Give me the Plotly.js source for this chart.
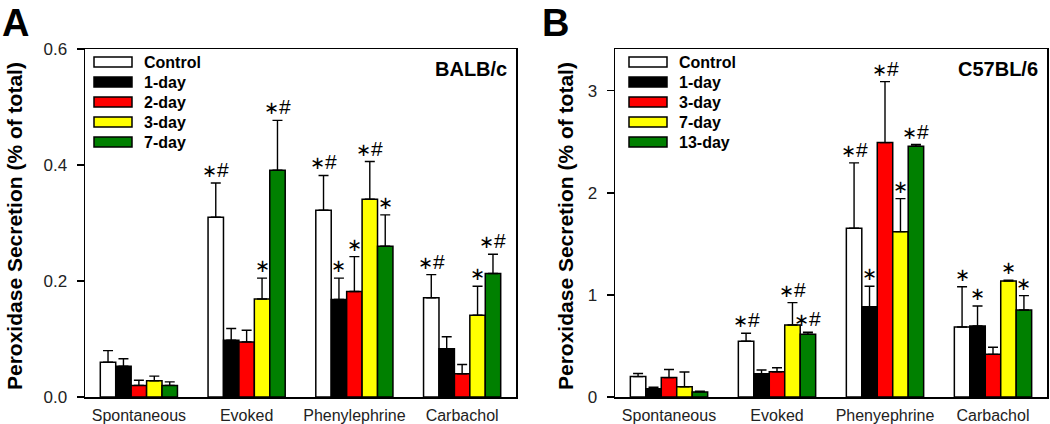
<!DOCTYPE html>
<html>
<head>
<meta charset="utf-8">
<script src="https://cdn.plot.ly/plotly-3.0.1.min.js"></script>
<style>html,body{margin:0;padding:0;background:#fff;}#chart{width:1050px;height:424px;}</style>
</head>
<body>
<div id="chart"></div>
<script>
// ---------- data ----------
const catsA = ['Spontaneous', 'Evoked', 'Phenylephrine', 'Carbachol'];
const catsB = ['Spontaneous', 'Evoked', 'Phenyephrine', 'Carbachol'];
const seriesA = ['Control', '1-day', '2-day', '3-day', '7-day'];
const seriesB = ['Control', '1-day', '3-day', '7-day', '13-day'];
const colors = ['#ffffff', '#000000', '#ff0000', '#ffff00', '#008000'];
const yTitle = 'Peroxidase Secretion (% of total)';

// Panel A (BALB/c): means and SEM (upper error only)
const A_control = [0.060, 0.310, 0.322, 0.171];
const A_day1    = [0.053, 0.098, 0.168, 0.083];
const A_day2    = [0.020, 0.095, 0.182, 0.040];
const A_day3    = [0.028, 0.169, 0.341, 0.141];
const A_day7    = [0.020, 0.391, 0.260, 0.213];
const A_err_control = [0.020, 0.059, 0.060, 0.040];
const A_err_day1    = [0.013, 0.020, 0.037, 0.021];
const A_err_day2    = [0.009, 0.020, 0.060, 0.016];
const A_err_day3    = [0.008, 0.036, 0.065, 0.050];
const A_err_day7    = [0.006, 0.086, 0.054, 0.033];
const A_sig_control = ['', '*#', '*#', '*#'];
const A_sig_day1    = ['', '', '*', ''];
const A_sig_day2    = ['', '', '*', ''];
const A_sig_day3    = ['', '*', '*#', '*'];
const A_sig_day7    = ['', '*#', '*', '*#'];

// Panel B (C57BL/6)
const B_control = [0.20, 0.546, 1.654, 0.686];
const B_day1    = [0.08, 0.228, 0.885, 0.696];
const B_day3    = [0.19, 0.248, 2.493, 0.418];
const B_day7    = [0.10, 0.706, 1.620, 1.137];
const B_day13   = [0.05, 0.615, 2.458, 0.853];
const B_err_control = [0.030, 0.078, 0.640, 0.394];
const B_err_day1    = [0.015, 0.037, 0.200, 0.196];
const B_err_day3    = [0.080, 0.039, 0.597, 0.069];
const B_err_day7    = [0.145, 0.219, 0.324, 0.007];
const B_err_day13   = [0.006, 0.019, 0.016, 0.140];
const B_sig_control = ['', '*#', '*#', '*'];
const B_sig_day1    = ['', '', '*', '*'];
const B_sig_day3    = ['', '', '*#', ''];
const B_sig_day7    = ['', '*#', '*', '*'];
const B_sig_day13   = ['', '*#', '*#', '*'];

const yTicksA = [0, 0.2, 0.4, 0.6];
const yTickTextA = ['0.0', '0.2', '0.4', '0.6'];
const yTicksB = [0, 1, 2, 3];
const yTickTextB = ['0', '1', '2', '3'];

// ---------- build ----------
const FONT = 'Arial, "Liberation Sans", sans-serif';
const BARGAP = 0.284;
const pos = [0, 1, 2, 3];

const traces = [];
const annotations = [];
const shapes = [];

function sigText(s) {
  return s.replace('*', '<span style="font-size:18px">∗</span>');
}

function addPanel(xa, ya, names, means, errs, sigs, legendBoxX, legendTextX, strain) {
  const n = names.length;
  const bw = (1 - BARGAP) / n;
  names.forEach((nm, j) => {
    traces.push({
      type: 'bar', name: nm, x: pos, y: means[j],
      xaxis: xa, yaxis: ya, showlegend: false,
      marker: {color: colors[j], line: {color: '#000', width: 1.5}},
      error_y: {type: 'data', symmetric: false, array: errs[j], arrayminus: errs[j].map(() => 0),
                color: '#000', thickness: 1.4, width: 5},
      hoverinfo: 'skip'
    });
    sigs[j].forEach((s, i) => {
      if (!s) return;
      annotations.push({
        xref: xa, yref: ya, x: i + (j - (n - 1) / 2) * bw, y: means[j][i] + errs[j][i],
        text: sigText(s), showarrow: false, yanchor: 'bottom', xanchor: 'center',
        font: {family: 'Arial, "DejaVu Sans"', size: 21, color: '#000'}
      });
    });
    // legend (drawn inside the plot, top-left)
    const xd = xa + ' domain', yd = ya + ' domain';
    shapes.push({
      type: 'rect', xref: xd, yref: yd, xsizemode: 'pixel', ysizemode: 'pixel',
      xanchor: 0, yanchor: 1, x0: legendBoxX, x1: legendBoxX + 38,
      y0: -8 - 20 * j, y1: -18 - 20 * j,
      fillcolor: colors[j], line: {color: '#000', width: 1.5}
    });
    annotations.push({
      xref: xd, yref: yd, x: 0, y: 1, xshift: legendTextX, yshift: -13 - 20 * j,
      xanchor: 'left', yanchor: 'middle', showarrow: false, text: nm,
      font: {family: FONT, size: 16, weight: 'bold', color: '#000'}
    });
  });
  annotations.push({
    xref: xa + ' domain', yref: ya + ' domain', x: 1, y: 1, xshift: -7, yshift: -20,
    xanchor: 'right', yanchor: 'middle', showarrow: false, text: strain,
    font: {family: FONT, size: 20, weight: 'bold', color: '#000'}
  });
}

addPanel('x', 'y', seriesA,
  [A_control, A_day1, A_day2, A_day3, A_day7],
  [A_err_control, A_err_day1, A_err_day2, A_err_day3, A_err_day7],
  [A_sig_control, A_sig_day1, A_sig_day2, A_sig_day3, A_sig_day7], 9, 57, 'BALB/c');
addPanel('x2', 'y2', seriesB,
  [B_control, B_day1, B_day3, B_day7, B_day13],
  [B_err_control, B_err_day1, B_err_day3, B_err_day7, B_err_day13],
  [B_sig_control, B_sig_day1, B_sig_day3, B_sig_day7, B_sig_day13], 14, 62, 'C57BL/6');

// panel letters
annotations.push({xref: 'paper', yref: 'paper', x: 0, y: 1, xanchor: 'left', yanchor: 'top',
  showarrow: false, text: 'A', font: {family: FONT, size: 38, weight: 'bold', color: '#000'}});
annotations.push({xref: 'paper', yref: 'paper', x: 540 / 1050, y: 1, xanchor: 'left', yanchor: 'top',
  showarrow: false, text: 'B', font: {family: FONT, size: 38, weight: 'bold', color: '#000'}});
// y-axis titles
[[15 / 1050], [566 / 1050]].forEach(([xp]) => {
  annotations.push({xref: 'paper', yref: 'paper', x: xp, y: (424 - 226) / 424, textangle: -90,
    xanchor: 'center', yanchor: 'middle', showarrow: false, text: yTitle,
    font: {family: FONT, size: 21, weight: 'bold', color: '#000'}});
});

const yDom = [27 / 424, 375 / 424];
function xAxis(dom, cats, anchor) {
  return {domain: dom, anchor: anchor, range: [-0.5, 3.5], tickvals: pos, ticktext: cats,
    showline: true, mirror: true, linecolor: '#000', linewidth: 1.5, ticks: '', showgrid: false,
    zeroline: false, tickfont: {family: FONT, size: 16, color: '#222'}, ticklabelstandoff: 3, fixedrange: true};
}
function yAxis(range, tv, tt, anchor) {
  return {domain: yDom, anchor: anchor, range: range, tickvals: tv, ticktext: tt,
    showline: true, mirror: true, linecolor: '#000', linewidth: 1.5, ticks: 'outside', ticklen: 7,
    tickwidth: 1.3, tickcolor: '#000', showgrid: false, zeroline: false, ticklabelstandoff: 6,
    tickfont: {family: FONT, size: 17, color: '#222'}, fixedrange: true};
}

const layout = {
  width: 1050, height: 424, margin: {l: 0, r: 0, t: 0, b: 0},
  paper_bgcolor: '#fff', plot_bgcolor: '#fff',
  barmode: 'group', bargap: BARGAP, bargroupgap: 0,
  showlegend: false,
  xaxis: xAxis([85 / 1050, 516 / 1050], catsA, 'y'),
  yaxis: yAxis([0, 0.6], yTicksA, yTickTextA, 'x'),
  xaxis2: xAxis([615 / 1050, 1047 / 1050], catsB, 'y2'),
  yaxis2: yAxis([0, 3.41], yTicksB, yTickTextB, 'x2'),
  annotations: annotations,
  shapes: shapes
};

Plotly.newPlot('chart', traces, layout, {staticPlot: true, displayModeBar: false});
</script>
</body>
</html>
